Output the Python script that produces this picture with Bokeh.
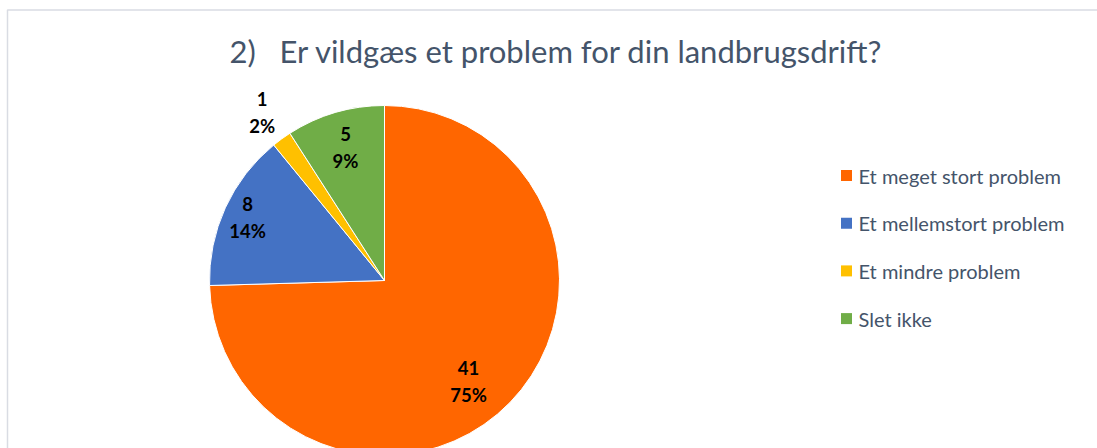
import math
from bokeh.plotting import figure
from bokeh.models import Range1d, ColumnDataSource
from bokeh.core.properties import value
from bokeh.embed import file_html
from bokeh.resources import INLINE

# ---- data ----
title_text = "2)\u00a0\u00a0\u00a0Er vildgæs et problem for din landbrugsdrift?"
categories = ["Et meget stort problem", "Et mellemstort problem", "Et mindre problem", "Slet ikke"]
counts = [41, 8, 1, 5]
percent_labels = ["75%", "14%", "2%", "9%"]
colors = ["#FF6600", "#4472C4", "#FFC000", "#70AD47"]

# ---- layout / style ----
W, H = 1097, 448
label_radius_factor = [0.75, 0.86, 1.19, 0.79]
label_angle_nudge_deg = [-6, 0, 0, 0]
FONT = "Lato"
TEXT_COLOR = "#44546A"

def py(ypx):
    return H - ypx

p = figure(width=W, height=H, x_range=Range1d(0, W), y_range=Range1d(0, H),
           output_backend="svg", toolbar_location=None, min_border=0)
p.axis.visible = False
p.grid.visible = False
p.outline_line_color = None
p.background_fill_color = "white"
p.border_fill_color = "white"

# chart frame
p.quad(left=[7], right=[W + 20], top=[py(9.5)], bottom=[py(H + 20)],
       fill_color=None, line_color="#D9DCE3", line_width=1.5)

# pie
cx, cy, R = 384, py(280), 175
total = sum(counts)
starts, ends, mids = [], [], []
acc = 0.0
for c in counts:
    a0 = math.pi / 2 - 2 * math.pi * acc / total
    acc += c
    a1 = math.pi / 2 - 2 * math.pi * acc / total
    starts.append(a0)
    ends.append(a1)
    mids.append((a0 + a1) / 2)

src = ColumnDataSource(dict(start=starts, end=ends, color=colors, cat=categories))
p.wedge(x=cx, y=cy, radius=R, start_angle="start", end_angle="end", direction="clock",
        fill_color="color", line_color="white", line_width=1, source=src)

# data labels
angs = [m + math.radians(n) for m, n in zip(mids, label_angle_nudge_deg)]
lx = [cx + f * R * math.cos(a) for f, a in zip(label_radius_factor, angs)]
ly = [cy + f * R * math.sin(a) for f, a in zip(label_radius_factor, angs)]
p.text(x=lx, y=ly, text=[str(c) for c in counts], text_font=value(FONT),
       text_font_style="bold", text_font_size="18.5px", text_color="black",
       text_align="center", text_baseline="middle", y_offset=-13.5)
p.text(x=lx, y=ly, text=percent_labels, text_font=value(FONT),
       text_font_style="bold", text_font_size="18.5px", text_color="black",
       text_align="center", text_baseline="middle", y_offset=13.5)

# title
p.text(x=[556], y=[py(50)], text=[title_text], text_font=value(FONT),
       text_font_size="31px", text_color=TEXT_COLOR,
       text_align="center", text_baseline="middle")

# legend
leg_y = [py(175 + 47.7 * i) for i in range(len(categories))]
p.rect(x=[846] * len(categories), y=leg_y, width=11, height=11,
       fill_color=colors, line_color=None)
p.text(x=[858] * len(categories), y=leg_y, text=categories, text_font=value(FONT),
       text_font_size="20px", text_color=TEXT_COLOR,
       text_align="left", text_baseline="middle")

open("out.html", "w").write(file_html(p, INLINE))
